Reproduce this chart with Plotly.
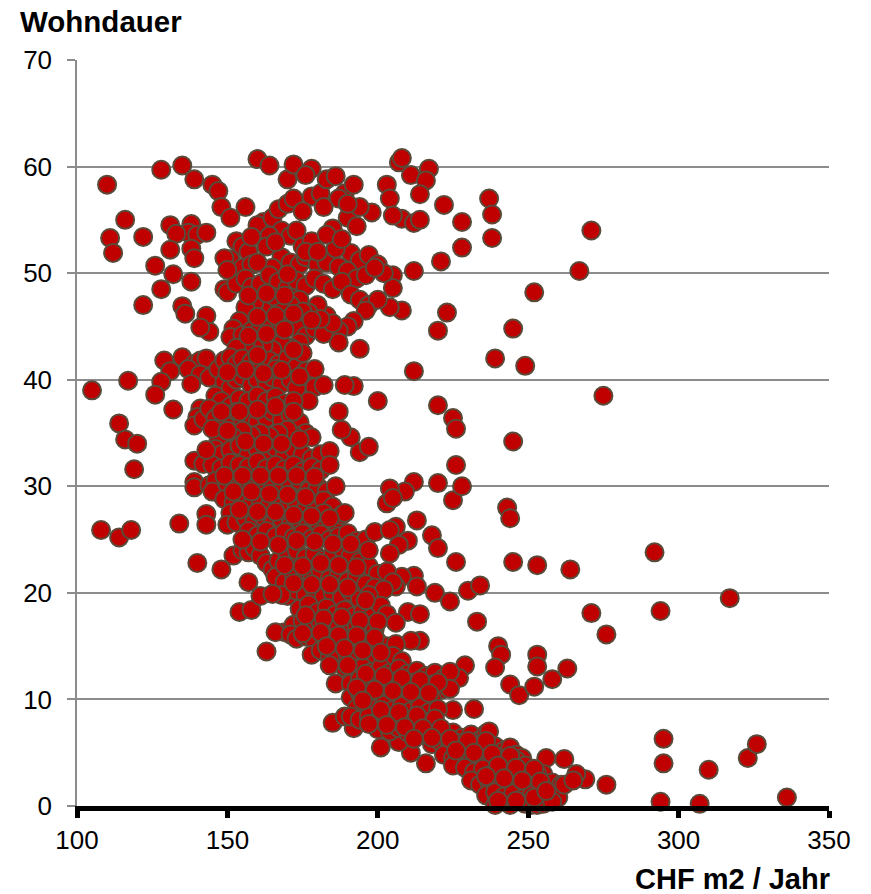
import plotly.graph_objects as go

# (CHF m2 / Jahr, Wohndauer), grouped by region
outer_left = [(110,58.3),(128,59.7),(135,60.1),(139,58.8),(145,58.3),(147,57.7),(148,56.2),(151,55.2),(156,56.2),(160,60.7),(164,60.1),
 (116,55),(111,53.3),(112,51.9),(122,53.4),(131,54.5),(138,54.6),(137,53.8),(133,53.7),(140,53.6),(143,53.8),(131,52.2),(138,52.3),(139,51.4),
 (126,50.7),(132,49.9),(128,48.5),(138,49.2),(122,47),(135,46.9),(136,46.2),(143,46),(144,44.5),(141,44.9),(129,41.8),(131,40.8),(128,39.8),
 (126,38.6),(105,39),(117,39.9),(114,35.9),(116,34.4),(120,34),(119,31.6),(108,25.9),(114,25.2),(118,25.9),(134,26.5),(132,37.2),
 (140,22.8),(148,22.2),(154,18.2),(158,18.4),(157,21),(163,14.5),(169,16.3),(185,7.8),(186,11.5),(192,7.3),(189,8.4),(201,5.5),(211,5),(216,4),(207,6)]
outer_right = [(207,60.4),(208,60.8),(217,59.8),(211,59.2),(216,58.7),(203,58.3),(204,57),(214,57.4),(237,57),(238,55.5),(238,53.3),(222,56.4),
 (228,54.8),(208,55.1),(212,54.7),(214,55),(205,55.4),(198,55.7),(228,52.4),(221,51.1),(212,50.2),(205,49.8),(205,48.6),(208,46.5),(223,46.3),
 (220,44.6),(204,46.8),(252,48.2),(245,44.8),(239,42),(249,41.3),(271,54),(267,50.2),(275,38.5),(212,40.8),(194,42.9),(200,38),(220,37.6),
 (225,36.4),(226,35.4),(245,34.2),(226,32),(220,30.3),(225,28.7),(228,30),(243,28),(244,27),(212,30.4),(209,29.5),(204,29.8),(203,28.4),(205,28.9),
 (191,34.6),(188,35.3),(194,33.2),(197,33.7),(187,37),(192,39.4),(189,39.5),(213,26.8),(206,26.2),(218,25.4),(220,24.2),(226,22.9),(245,22.9),
 (253,22.6),(264,22.2),(292,23.8),(294,18.3),(317,19.5),(271,18.1),(276,16.1),(230,20.2),(234,20.7),(219,20),(224,19.2),(233,17.3),(212,21.6),
 (208,21.5),(213,20.6),(210,18.2),(214,18),(214,15.5),(211,15.5),(240,15),(241,14.2),(239,13),(253,14.2),(253,13.1),(263,12.9),(258,11.9),(244,11.4),
 (247,10.4),(252,11.2),(229,13.2),(227,12),(232,9.1),(225,9),(295,6.3),(295,4),(310,3.4),(323,4.5),(326,5.8),(336,0.8),(294,0.4),(307,0.2),(276,2),
 (269,2.5),(266,3),(262,4.4),(256,4.5),(255,3)]
band_top = [(153,53),(155,52.5),(157,52),(151,51.3),(149,51.4),(155,50.5),(158,50.8),(160,53.5),(162,54.8),(160,54.5),(165,55.2),(167,56),(170,56.5),
 (172,57),(170,58.8),(172,60.2),(178,59.8),(176,59.2),(178,57.2),(181,57.5),(183,58.8),(186,59.1),(189,57.5),(192,58.3),(187,57),(190,55.2),(194,56.2),
 (190,56.5),(193,54.4),(185,54.2),(182,56.2),(175,55.8),(168,54),(164,53.5),(171,53.5),(173,54),(175,52.5),(178,53),(168,51.5),(165,50.5),(171,51),
 (174,50.8),(176,51.5),(163,52.5),(160,51),(180,50.8),(183,51),(187,50.6),(191,51.9),(194,51.2),(197,51.7),(200,50.8),(202,50),(190,50.2),(193,49.5),
 (196,49.8),(199,50.5)]
band_50_44 = [(149,48.5),(150,48.2),(153,49),(156,49.5),(158,48.7),(161,49),(164,49.8),(167,49.2),(170,48.6),(173,49.3),(176,48.8),(179,49.5),(182,49),
 (185,48.5),(188,49.2),(191,48),(194,47.5),(197,47),(200,47.5),(196,46.5),(192,45.5),(190,45),(187,44.6),(187,43.5),(183,46),(180,47),(177,46.3),(174,47.5),
 (171,47),(168,46.6),(165,47.8),(162,46.5),(159,47.2),(156,46.8),(154,45.5),(152,44.8),(151,44),(155,44.2),(158,44.6),(161,45),(164,45.2),(167,44.4),
 (170,45.4),(173,44.9),(176,44.1),(179,44.8),(182,44.3),(185,45.3),(174,43.5),(171,43),(168,43.4),(165,42.8),(162,43.2),(159,43),(156,43.3),(153,43)]
band_44_38 = [(135,42.1),(139,41.5),(141,41.8),(143,42),(137,41),(141,40.5),(138,39.6),(144,40.2),(147,41),(149,41.8),(151,42.1),(153,41.5),(155,42),(158,41.7),
 (161,41.3),(164,41.8),(167,41.5),(170,42),(173,41.2),(176,40.8),(179,41),(176,39),(179,39.3),(182,39.5),(177,38),(149,39.8),(151,39.2),(153,40),(155,40.3),
 (158,39.5),(160,40),(163,39.8),(165,40.2),(168,39.6),(171,40),(173,39.2),(146,38.5),(148,38),(151,37.5),(154,38.2),(157,38),(160,38.5),(163,38),(166,38.4),
 (169,37.8),(172,38)]
band_38_32 = [(141,37.3),(140,36.5),(139,35.7),(142,36.3),(144,37.3),(146,36.4),(149,36),(151,36.5),(153,37),(155,36.2),(158,36.6),(160,36),(163,36.4),(165,37),
 (168,36.2),(171,36.7),(174,36),(176,35),(178,34.6),(172,34.8),(170,35.3),(167,35),(164,34.7),(161,35),(158,34.8),(155,35.2),(152,34.6),(149,35),(147,34.2),
 (146,33.5),(148,33),(151,33.4),(154,33.8),(157,33),(160,33.5),(163,33.2),(166,33.6),(169,33),(172,33.5),(175,33),(178,32.6),(181,33),(184,33.3),(139,32.4),
 (142,32.1),(145,32),(148,31.7),(151,32.2),(154,32),(157,31.8),(160,32.3),(163,31.7),(166,32),(169,31.6),(172,32),(175,31.4),(178,31.8),(181,31.5),(184,32)]
band_32_25 = [(139,30.4),(139,29.9),(144,30.1),(146,30.5),(148,29.2),(145,29.5),(150,30.2),(153,30.5),(156,30),(159,30.4),(162,29.8),(165,30.2),(168,29.7),
 (171,30.1),(174,30.5),(177,29.6),(180,30),(183,29.5),(186,30),(149,28.8),(152,28.5),(155,28.9),(158,28.3),(161,28.7),(164,28.2),(167,28.6),(170,28),(173,28.4),
 (176,27.9),(179,28.3),(182,28.7),(185,28.1),(143,27.4),(143,26.4),(151,27.5),(150,26.4),(153,26.6),(156,27),(159,26.7),(162,27.1),(165,26.5),(168,26.9),
 (171,26.4),(174,26.8),(177,26.3),(180,26.7),(183,26.2),(186,26.6),(188,27.3),(189,27.5),(157,25.8),(160,25.4),(163,25.8),(166,25.3),(169,25.7),(172,25.2),
 (175,25.6),(178,25.1),(181,25.5),(184,25),(187,25.3),(190,25.6),(193,24.9),(196,25),(199,25.7),(204,25.9),(210,24.9),(207,24.5),(204,23.7)]
band_25_19 = [(152,23.5),(155,24),(157,23.8),(159,24.2),(161,23.5),(163,22.8),(165,22.2),(167,23),(170,23.5),(173,24),(176,23.3),(179,23.7),(182,23.1),(185,23.6),
 (188,24.2),(191,23.5),(194,22.9),(197,22.5),(200,21.8),(203,22),(206,20.6),(205,21),(166,21.5),(169,21),(172,21.8),(175,21.2),(178,21.6),(181,22),(184,21.3),
 (187,21.7),(190,21.1),(193,21.5),(196,20.8),(199,20.5),(202,20.3),(170,19.7),(173,20.2),(176,19.8),(179,20.3),(182,19.6),(185,20),(188,19.5),(191,20.1),(194,19.4),
 (197,19.8),(168,19.8),(161,19.7),(165,19.9)]
band_19_14 = [(174,18.5),(177,18.9),(180,18.2),(183,18.6),(186,18),(189,18.4),(192,17.8),(195,18.2),(198,17.7),(201,18.8),(203,18),(172,17),(175,17.4),(178,16.8),
 (181,17.2),(184,16.6),(187,17),(190,16.4),(193,16.8),(196,16.2),(199,16.6),(206,17.2),(166,16.3),(171,16.1),(173,15.7),(176,15.9),(179,15.5),(182,15.9),(185,15.3),
 (188,15.7),(191,15.1),(194,15.5),(197,15),(200,15.4),(203,15),(206,15.2),(178,14.2),(181,14.6),(184,14),(187,14.4),(190,13.9),(193,14.3),(196,13.8),(199,14.2),
 (202,13.7),(205,14.1),(208,13.6)]
band_14_9 = [(189,13),(192,12.7),(195,13),(198,12.6),(201,13),(204,12.5),(207,12.9),(210,12.4),(213,12.7),(216,12.2),(219,12.5),(222,12),(224,12.6),(191,11.5),(194,11.9),
 (197,11.4),(200,11.8),(203,11.3),(206,11.7),(209,11.2),(212,11.6),(215,11.1),(218,11.4),(221,10.9),(224,11),(191,10.2),(194,10.6),(197,10.1),(200,10.5),(203,10),
 (206,10.4),(209,9.9),(212,10.3),(215,9.8),(218,10.1),(193,9.2),(196,9.6),(199,9.1),(202,9.5),(205,9),(208,9.4),(211,8.9),(214,9.3),(217,8.8),(220,9.1)]
band_9_0 = [(191,8.4),(194,8.1),(197,8.4),(200,8),(203,8.3),(206,7.8),(209,8.1),(212,7.7),(215,8),(218,7.6),(200,7.2),(204,7),(207,7.3),(210,6.9),(213,7.1),(216,6.8),(219,7),
 (222,6.6),(225,6.9),(228,6.4),(231,6.7),(234,6.2),(236,6.8),(237,7),(218,5.8),(221,6),(224,5.6),(227,5.9),(230,5.4),(233,5.7),(236,5.2),(239,5.6),(242,5.2),(244,5.5),
 (246,4.8),(248,4.5),(222,4.8),(225,4.5),(228,4.8),(231,4.3),(234,4.6),(237,4.1),(240,4.5),(243,4),(246,4.3),(249,3.8),(225,3.8),(229,3.6),(232,3.2),(235,3.5),(238,3),
 (241,3.3),(244,2.8),(247,3.1),(250,2.7),(253,3),(231,2.4),(234,2),(237,2.3),(240,1.8),(243,2.1),(246,1.6),(249,1.9),(252,1.5),(255,1.8),(258,2.2),(261,2),(236,1),(239,1.3),
 (242,0.9),(245,1.2),(248,0.7),(251,1),(254,0.6),(257,1),(260,0.8),(239,0.1),(244,0.1),(249,0.2),(251,0.1),(253,0.1),(255,0.2),(258,0.4),(262,2),(265,2.4)]
core_fill = [(157,47.9),(163,48.1),(169,47.9),(175,46.4),(181,45.7),(160,45.9),(166,46),(172,46.2),(178,45.6),(157,44.1),(163,44.3),(169,44.7),(175,42.5),(160,42.3),(166,41),
 (172,42.8),(150,40.7),(156,40.9),(162,40.6),(168,40.9),(174,40.3),(148,37),(154,37),(160,37.2),(166,37.5),(172,37),(145,35.4),(150,35.2),(156,34.2),(162,34),(168,34),
 (174,34.4),(143,33.4),(149,31),(155,31),(161,31),(167,31),(173,31),(179,30.9),(152,29.5),(158,29.5),(164,29.3),(170,29.2),(176,29),(182,27.5),(154,27.8),(160,27.6),(166,27.6),
 (172,27.3),(178,27.2),(184,27),(155,25),(161,24.8),(167,24.5),(173,24.9),(179,24.8),(185,24.6),(191,24.6),(197,24),(169,22.6),(175,22.5),(181,22.8),(187,22.6),(193,22.4),(172,20.9),
 (178,20.8),(184,20.8),(190,20.5),(196,19.3),(176,17.9),(182,17.6),(188,17.7),(194,17.4),(200,17.3),(175,16.2),(181,16.3),(187,16),(193,16),(199,15.8),(183,15),(189,14.8),(195,14.6),
 (201,14.4),(184,13.2),(190,13.2),(196,12.4),(202,12.2),(208,12),(214,11.8),(220,11.6),(193,11.1),(199,10.9),(205,10.8),(211,10.7),(217,10.6),(195,9.9),(201,9),(207,8.8),(213,8.5),
 (219,8.2),(197,7.7),(203,7.6),(209,7.4),(215,7.3),(221,7.3),(212,6.3),(218,6.4),(224,6.3),(230,6.1),(236,6.1),(226,5.2),(232,5),(238,4.9),(244,4.7),(240,3.8),(246,3.6),(252,3.5),
 (236,2.8),(242,2.6),(248,2.4),(254,2.3),(240,0.5),(246,0.5),(252,0.8),(256,1.4),(176,52),(170,49.9),(180,52),(186,52.3),(183,53.6),(188,53.2),(166,52.9),(158,53.4),(150,50.3)]

x_ticks = [100, 150, 200, 250, 300, 350]
y_ticks = [0, 10, 20, 30, 40, 50, 60, 70]

pts = (outer_left + outer_right + band_top + band_50_44 + band_44_38 + band_38_32
       + band_32_25 + band_25_19 + band_19_14 + band_14_9 + band_9_0 + core_fill)

fig = go.Figure(go.Scatter(
    x=[p[0] for p in pts], y=[p[1] for p in pts], mode="markers", cliponaxis=False,
    marker=dict(size=18, color="#C00000", line=dict(color="#5A4A3A", width=2)),
))
FONT = "Liberation Sans, Arial, sans-serif"
fig.update_layout(
    width=871, height=894, autosize=False, showlegend=False,
    paper_bgcolor="white", plot_bgcolor="white",
    margin=dict(l=77, r=42, t=60, b=88),
    font=dict(family=FONT, size=26, color="black"),
    xaxis=dict(range=[100, 350], tickvals=x_ticks, showgrid=False, zeroline=False,
               showline=True, linecolor="black", linewidth=5,
               ticks="outside", ticklen=7, tickwidth=5, tickcolor="black",
               tickfont=dict(size=26)),
    yaxis=dict(range=[0, 70], tickvals=y_ticks, showgrid=True, gridcolor="#8C8C8C", gridwidth=1.5,
               zeroline=False, showline=True, linecolor="#8C8C8C", linewidth=1.5,
               ticks="outside", ticklen=8, tickwidth=1.5, tickcolor="#8C8C8C",
               ticklabelstandoff=10, tickfont=dict(size=26)),
    annotations=[
        dict(text="<b>Wohndauer</b>", xref="paper", yref="paper", x=-0.0785, y=1.0, yshift=39,
             xanchor="left", yanchor="middle", showarrow=False, font=dict(size=29.5, family=FONT)),
        dict(text="<b>CHF m2 / Jahr</b>", xref="paper", yref="paper", x=1.0, y=0, xshift=3, yshift=-73,
             xanchor="right", yanchor="middle", showarrow=False, font=dict(size=29, family=FONT)),
    ],
)
fig.write_html("out.html", config=dict(displayModeBar=False),
               post_script="document.body.style.margin='0';")
